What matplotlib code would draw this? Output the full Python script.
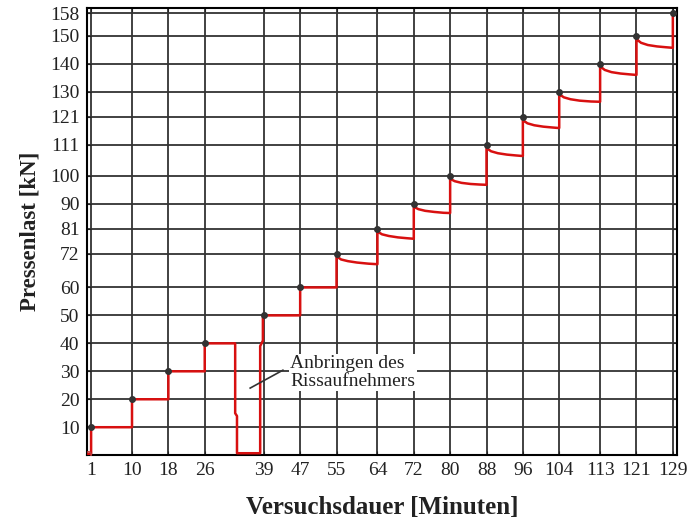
"""
Pressenlast ueber Versuchsdauer
"""
################################################################################
# Required Packages
################################################################################
import matplotlib
matplotlib.use("Agg")
import matplotlib.pyplot as plt

################################################################################
# Data
################################################################################
X_TICKS     = [1, 10, 18, 26, 39, 47, 55, 64, 72, 80, 88, 96, 104, 113, 121, 129]
Y_TICKS     = [10, 20, 30, 40, 50, 60, 72, 81, 90, 100, 111, 121, 130, 140, 150, 158]

# Load path [min], [kN]
time_min    = [
    0.4, 1, 1, 10, 10, 18, 18, 26, 26,
    32.7, 32.7, 33.1, 33.1, 38.2, 38.2, 38.8, 38.8,
    47, 47, 55,
    55, 55.3, 56, 57.5, 59.5, 62, 64,
    64, 64.3, 65, 66.5, 68.5, 70.5, 72,
    72, 72.3, 73, 74.5, 76.5, 78.5, 80,
    80, 80.3, 81, 82.5, 84.5, 86.5, 88,
    88, 88.3, 89, 90.5, 92.5, 94.5, 96,
    96, 96.3, 97, 98.5, 100.5, 102.5, 104,
    104, 104.3, 105, 106.5, 108.5, 111, 113,
    113, 113.3, 114, 115.5, 117.5, 119.5, 121,
    121, 121.3, 122, 123.5, 125.5, 127.5, 129,
    129]
load_kN     = [
    0.5, 0.5, 10, 10, 20, 20, 30, 30, 40,
    40, 15, 14, 0.7, 0.7, 39, 41, 50,
    50, 60, 60,
    72, 70.8, 70.0, 69.4, 68.9, 68.5, 68.3,
    81, 79.7, 79.0, 78.4, 77.9, 77.6, 77.4,
    90, 88.6, 88.0, 87.4, 87.0, 86.7, 86.6,
    100, 98.6, 98.0, 97.4, 97.0, 96.8, 96.7,
    111, 109.5, 108.7, 108.0, 107.5, 107.2, 107.0,
    121, 119.5, 118.7, 118.0, 117.5, 117.2, 117.0,
    130.3, 128.8, 128.0, 127.3, 126.8, 126.5, 126.4,
    140.3, 138.7, 137.8, 137.0, 136.5, 136.2, 136.0,
    150, 148.4, 147.5, 146.7, 146.2, 145.9, 145.7,
    158]

# Step markers
marker_t    = [1, 10, 18, 26, 39, 47, 55, 64, 72, 80, 88, 96, 104, 113, 121, 129]
marker_F    = [10, 20, 30, 40, 50, 60, 72, 81, 90, 100, 111, 121, 130, 140, 150, 158]

# Annotation leader [min], [kN]
leader_t    = [36, 43.2]
leader_F    = [24, 30.4]

################################################################################
# Plot
################################################################################
plt.rcParams["font.family"] = ["Liberation Serif", "DejaVu Serif"]

fig = plt.figure(figsize = (6.87, 5.22), dpi = 100)
ax  = fig.add_axes([0.126, 0.128, 0.860, 0.857])

ax.plot(time_min, load_kN, color = "#d81010", lw = 1.8, zorder = 3)
ax.plot(marker_t, marker_F, ls = "none", marker = "o", ms = 4,
        color = "#333333", zorder = 4)
ax.plot([0.4], [0.5], ls = "none", marker = "o", ms = 4,
        mfc = "none", mec = "#c04040", zorder = 4)

ax.set_xlim(0, 130)
ax.set_ylim(0, 160)
ax.set_xticks(X_TICKS)
ax.set_yticks(Y_TICKS)
ax.grid(True, color = "#333333", lw = 1.3)
ax.set_axisbelow(True)
ax.tick_params(direction = "in", length = 3, top = True, right = True,
               labelsize = 14, pad = 5, color = "#222222", labelcolor = "#222222")
for sp in ax.spines.values():
    sp.set_linewidth(1.5)

ax.set_xlabel("Versuchsdauer [Minuten]", fontsize = 18, fontweight = "bold",
              labelpad = 12, color = "#222222")
ax.set_ylabel("Pressenlast [kN]", fontsize = 16.5, fontweight = "bold",
              labelpad = 7, color = "#222222")

########################################
# Annotation
########################################
ax.plot(leader_t, leader_F, color = "#333333", lw = 1.2, zorder = 5)
ax.text(44.8, 29.5, "Anbringen des\nRissaufnehmers", fontsize = 14,
        va = "center", ha = "left", linespacing = 1.05, color = "#222222",
        bbox = dict(fc = "white", ec = "none", pad = 1), zorder = 5)

fig.savefig("out.png", dpi = 100)
